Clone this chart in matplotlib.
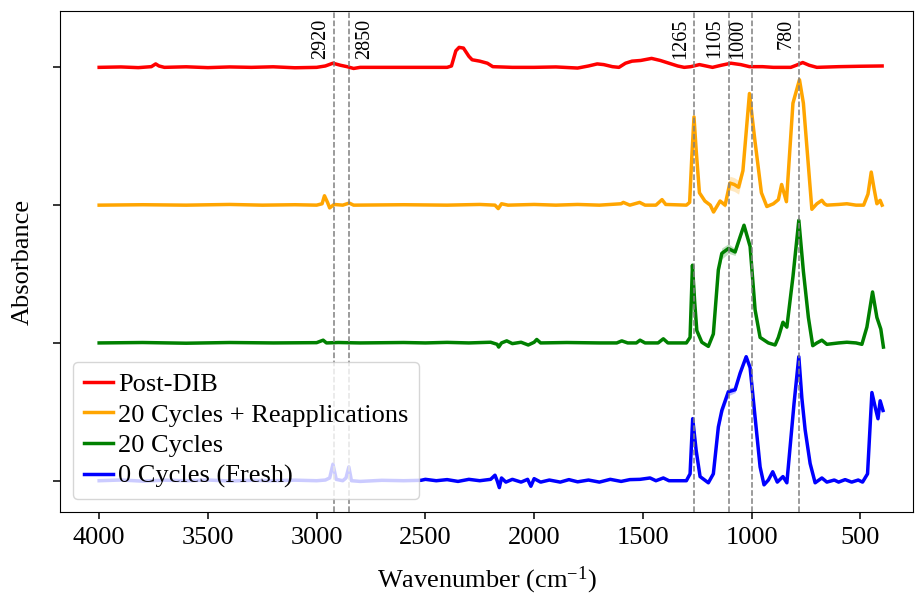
import numpy as np
import matplotlib
matplotlib.use('Agg')
import matplotlib.pyplot as plt

plt.rcParams['font.family'] = 'serif'
plt.rcParams['font.serif'] = ['Liberation Serif', 'DejaVu Serif']
plt.rcParams['mathtext.fontset'] = 'custom'
plt.rcParams['mathtext.rm'] = 'Liberation Serif'
plt.rcParams['mathtext.it'] = 'Liberation Serif:italic'

# (wavenumber, absorbance, std) for each averaged spectrum, normalised
post_dib = [
    (4000, 0.000, 0.003), (3900, 0.003, 0.003), (3820, -0.002, 0.003),
    (3760, 0.005, 0.003), (3740, 0.025, 0.004), (3725, 0.010, 0.003),
    (3700, 0.000, 0.003), (3600, 0.004, 0.003), (3500, -0.002, 0.003),
    (3400, 0.003, 0.003), (3300, 0.000, 0.003), (3200, 0.004, 0.003),
    (3100, -0.003, 0.003), (3000, 0.000, 0.003), (2960, 0.010, 0.003),
    (2925, 0.030, 0.004), (2890, 0.015, 0.003), (2860, 0.005, 0.003),
    (2830, -0.008, 0.003), (2800, 0.000, 0.003), (2600, 0.000, 0.003),
    (2400, 0.000, 0.003), (2380, 0.010, 0.004), (2360, 0.120, 0.006),
    (2345, 0.145, 0.006), (2325, 0.140, 0.006), (2300, 0.080, 0.005),
    (2285, 0.055, 0.004), (2250, 0.045, 0.004), (2215, 0.030, 0.004),
    (2190, 0.005, 0.003), (2100, 0.000, 0.003), (2000, 0.000, 0.003),
    (1900, 0.003, 0.003), (1800, -0.005, 0.003), (1750, 0.010, 0.003),
    (1710, 0.025, 0.003), (1680, 0.020, 0.003), (1640, 0.005, 0.003),
    (1610, 0.000, 0.003), (1580, 0.030, 0.003), (1550, 0.045, 0.004),
    (1510, 0.050, 0.004), (1460, 0.065, 0.004), (1420, 0.050, 0.004),
    (1380, 0.030, 0.003), (1340, 0.010, 0.003), (1310, 0.000, 0.003),
    (1280, 0.005, 0.003), (1240, 0.020, 0.003), (1210, 0.010, 0.003),
    (1180, 0.000, 0.003), (1140, 0.015, 0.003), (1095, 0.030, 0.003),
    (1050, 0.020, 0.003), (1010, 0.005, 0.003), (950, 0.005, 0.003),
    (900, 0.000, 0.003), (820, 0.000, 0.003), (795, 0.015, 0.003),
    (765, 0.035, 0.003), (735, 0.015, 0.003), (700, 0.000, 0.003),
    (600, 0.005, 0.003), (500, 0.008, 0.003), (400, 0.010, 0.003),
]

cycles_20_reapp = [
    (4000, 0.000, 0.003), (3800, 0.003, 0.003), (3600, 0.000, 0.003),
    (3400, 0.005, 0.003), (3250, 0.000, 0.003), (3100, 0.003, 0.003),
    (3000, 0.000, 0.003), (2975, 0.010, 0.004), (2964, 0.068, 0.006),
    (2950, 0.020, 0.004), (2940, -0.020, 0.004), (2920, 0.005, 0.003),
    (2880, 0.000, 0.003), (2850, 0.015, 0.003), (2830, 0.000, 0.003),
    (2600, 0.003, 0.003), (2400, 0.000, 0.003), (2250, 0.005, 0.003),
    (2180, 0.000, 0.003), (2165, -0.025, 0.004), (2150, 0.010, 0.003),
    (2120, 0.000, 0.003), (2000, 0.005, 0.003), (1900, 0.000, 0.003),
    (1800, 0.005, 0.003), (1700, 0.000, 0.003), (1600, 0.010, 0.003),
    (1590, 0.020, 0.003), (1560, 0.000, 0.003), (1515, 0.020, 0.003),
    (1490, 0.000, 0.003), (1440, 0.000, 0.003), (1412, 0.040, 0.004),
    (1395, 0.005, 0.003), (1300, 0.000, 0.003), (1285, 0.020, 0.005),
    (1275, 0.350, 0.015), (1265, 0.640, 0.020), (1255, 0.400, 0.015),
    (1240, 0.090, 0.008), (1215, 0.030, 0.005), (1190, 0.000, 0.004),
    (1175, -0.050, 0.006), (1145, 0.030, 0.010), (1122, 0.000, 0.020),
    (1100, 0.160, 0.050), (1080, 0.150, 0.050), (1060, 0.130, 0.050),
    (1040, 0.250, 0.030), (1010, 0.810, 0.025), (985, 0.470, 0.015),
    (955, 0.090, 0.008), (930, -0.010, 0.005), (900, 0.010, 0.004),
    (877, 0.040, 0.006), (862, 0.150, 0.010), (840, 0.025, 0.006),
    (810, 0.740, 0.015), (780, 0.910, 0.020), (762, 0.740, 0.015),
    (723, -0.030, 0.006), (700, 0.010, 0.004), (677, 0.035, 0.004),
    (665, 0.010, 0.003), (654, 0.000, 0.003), (600, 0.005, 0.003),
    (562, 0.010, 0.003), (520, 0.000, 0.003), (485, 0.000, 0.003),
    (465, 0.080, 0.008), (450, 0.240, 0.012), (437, 0.120, 0.010),
    (424, 0.010, 0.008), (409, 0.035, 0.008), (400, 0.000, 0.008),
]

cycles_20 = [
    (4000, 0.000, 0.003), (3800, 0.003, 0.003), (3600, -0.002, 0.003),
    (3400, 0.003, 0.003), (3200, 0.000, 0.003), (3000, 0.002, 0.003),
    (2970, 0.020, 0.004), (2955, 0.000, 0.003), (2900, 0.003, 0.003),
    (2800, 0.000, 0.003), (2600, 0.003, 0.003), (2500, 0.000, 0.003),
    (2400, 0.004, 0.003), (2300, 0.000, 0.003), (2200, 0.005, 0.003),
    (2170, -0.010, 0.003), (2163, -0.030, 0.004), (2150, 0.000, 0.003),
    (2126, 0.015, 0.003), (2100, -0.005, 0.003), (2060, 0.005, 0.003),
    (2027, -0.015, 0.003), (2000, 0.005, 0.003), (1988, 0.025, 0.003),
    (1970, 0.000, 0.003), (1850, 0.003, 0.003), (1700, 0.000, 0.003),
    (1620, 0.000, 0.003), (1597, 0.015, 0.003), (1570, 0.000, 0.003),
    (1530, 0.000, 0.003), (1513, 0.020, 0.003), (1490, 0.000, 0.003),
    (1430, 0.000, 0.003), (1406, 0.030, 0.004), (1385, 0.000, 0.003),
    (1300, 0.000, 0.003), (1283, 0.040, 0.005), (1272, 0.564, 0.015),
    (1262, 0.300, 0.012), (1252, 0.090, 0.006), (1229, 0.005, 0.004),
    (1199, -0.025, 0.004), (1176, 0.065, 0.008), (1153, 0.530, 0.030),
    (1137, 0.650, 0.040), (1107, 0.685, 0.035), (1076, 0.660, 0.025),
    (1053, 0.770, 0.020), (1035, 0.854, 0.020), (1007, 0.700, 0.015),
    (984, 0.240, 0.010), (961, 0.040, 0.006), (923, 0.000, 0.004),
    (892, -0.015, 0.004), (877, 0.040, 0.010), (856, 0.150, 0.020),
    (838, 0.115, 0.015), (810, 0.480, 0.012), (783, 0.890, 0.015),
    (762, 0.520, 0.010), (739, 0.185, 0.006), (719, -0.020, 0.004),
    (700, 0.000, 0.003), (677, 0.020, 0.003), (654, -0.010, 0.003),
    (600, 0.000, 0.003), (562, 0.005, 0.003), (520, 0.000, 0.003),
    (493, -0.010, 0.004), (470, 0.115, 0.010), (444, 0.370, 0.015),
    (424, 0.185, 0.015), (406, 0.100, 0.020), (394, -0.030, 0.020),
]

cycles_0 = [
    (4000, 0.000, 0.003), (3900, 0.005, 0.003), (3800, -0.003, 0.003),
    (3700, 0.004, 0.003), (3600, 0.000, 0.003), (3500, 0.005, 0.003),
    (3400, -0.002, 0.003), (3300, 0.003, 0.003), (3200, 0.000, 0.003),
    (3100, 0.004, 0.003), (3000, 0.000, 0.003), (2960, 0.005, 0.003),
    (2940, 0.020, 0.004), (2925, 0.120, 0.008), (2910, 0.010, 0.004),
    (2880, 0.000, 0.003), (2865, 0.020, 0.004), (2852, 0.100, 0.008),
    (2840, 0.000, 0.003), (2800, -0.005, 0.003), (2700, 0.003, 0.003),
    (2600, 0.000, 0.003), (2520, 0.003, 0.003), (2500, 0.010, 0.003),
    (2450, 0.000, 0.003), (2400, 0.008, 0.003), (2350, -0.005, 0.003),
    (2300, 0.010, 0.003), (2250, 0.000, 0.003), (2200, 0.010, 0.003),
    (2180, 0.040, 0.004), (2170, 0.000, 0.003), (2160, -0.050, 0.005),
    (2150, 0.020, 0.004), (2130, -0.010, 0.003), (2100, 0.010, 0.003),
    (2060, -0.010, 0.003), (2030, 0.010, 0.003), (2015, -0.040, 0.004),
    (2000, 0.015, 0.003), (1970, -0.010, 0.003), (1930, 0.005, 0.003),
    (1880, -0.010, 0.003), (1840, 0.008, 0.003), (1800, -0.008, 0.003),
    (1750, 0.005, 0.003), (1700, -0.010, 0.003), (1650, 0.010, 0.003),
    (1600, -0.005, 0.003), (1560, 0.008, 0.003), (1513, 0.010, 0.003),
    (1467, 0.020, 0.003), (1440, 0.000, 0.003), (1406, 0.020, 0.003),
    (1380, 0.000, 0.003), (1300, 0.000, 0.003), (1283, 0.050, 0.006),
    (1271, 0.450, 0.020), (1255, 0.220, 0.012), (1237, 0.030, 0.005),
    (1199, -0.015, 0.004), (1176, 0.050, 0.008), (1153, 0.390, 0.030),
    (1137, 0.510, 0.035), (1107, 0.646, 0.030), (1076, 0.660, 0.020),
    (1053, 0.780, 0.015), (1025, 0.900, 0.015), (1007, 0.820, 0.012),
    (984, 0.460, 0.010), (961, 0.100, 0.006), (943, -0.030, 0.004),
    (923, 0.005, 0.004), (903, 0.065, 0.005), (882, -0.010, 0.004),
    (856, 0.030, 0.004), (838, -0.015, 0.004), (805, 0.560, 0.015),
    (783, 0.900, 0.015), (769, 0.600, 0.012), (754, 0.370, 0.010),
    (731, 0.125, 0.006), (708, -0.015, 0.004), (677, 0.020, 0.003),
    (654, -0.010, 0.003), (620, 0.005, 0.003), (600, -0.010, 0.003),
    (570, 0.008, 0.003), (540, -0.010, 0.003), (510, 0.005, 0.003),
    (490, -0.010, 0.003), (467, 0.050, 0.008), (447, 0.640, 0.020),
    (432, 0.535, 0.020), (419, 0.450, 0.020), (409, 0.580, 0.020),
    (396, 0.510, 0.020),
]

series = [post_dib, cycles_20_reapp, cycles_20, cycles_0]
labels = ['Post-DIB', '20 Cycles + Reapplications', '20 Cycles',
          '0 Cycles (Fresh)']
colors = ['red', 'orange', 'green', 'blue']
offsets = [3, 2, 1, 0]

# characteristic band positions
band_pos = [2920, 2850, 1265, 1105, 1000, 780]
band_labels = ['2920', '2850', '1265', '1105', '1000', '780']

fig = plt.figure(figsize=(9.15, 5.95), dpi=100)
ax = fig.add_axes([60 / 915, 83 / 595, 853 / 915, 501 / 595])

for data, label, color, off in zip(series, labels, colors, offsets):
    wn, ab, sd = np.array(data).T
    ax.fill_between(wn, ab + off - sd, ab + off + sd, color=color,
                    alpha=0.25, lw=0)
    ax.plot(wn, ab + off, color=color, lw=2.5, label=label)

for pos, text in zip(band_pos, band_labels):
    ax.axvline(pos, color='gray', ls='--', lw=1.1, zorder=3)
    if text == '2850':
        ax.annotate(text, xy=(pos, 0.985), xycoords=('data', 'axes fraction'),
                    xytext=(4, 0), textcoords='offset points',
                    rotation=90, ha='left', va='top', fontsize=14.5)
    else:
        ax.annotate(text, xy=(pos, 0.985), xycoords=('data', 'axes fraction'),
                    xytext=(-3, 0), textcoords='offset points',
                    rotation=90, ha='right', va='top', fontsize=14.5)

ax.set_xlim(4180, 258)
ax.set_ylim(-0.227, 3.409)
ax.set_xticks([4000, 3500, 3000, 2500, 2000, 1500, 1000, 500])
ax.set_yticks(offsets)
ax.set_yticklabels([])
ax.tick_params(axis='both', length=5, width=1.1, labelsize=19, pad=6)
ax.set_xlabel('Wavenumber (cm$^{-1}$)', fontsize=19, labelpad=11)
ax.set_ylabel('Absorbance', fontsize=19, labelpad=8)

ax.legend(loc='lower left', fontsize=19, handlelength=1.1,
          handletextpad=0.2, labelspacing=0.27, borderpad=0.4)

fig.savefig('out.png', dpi=100)
